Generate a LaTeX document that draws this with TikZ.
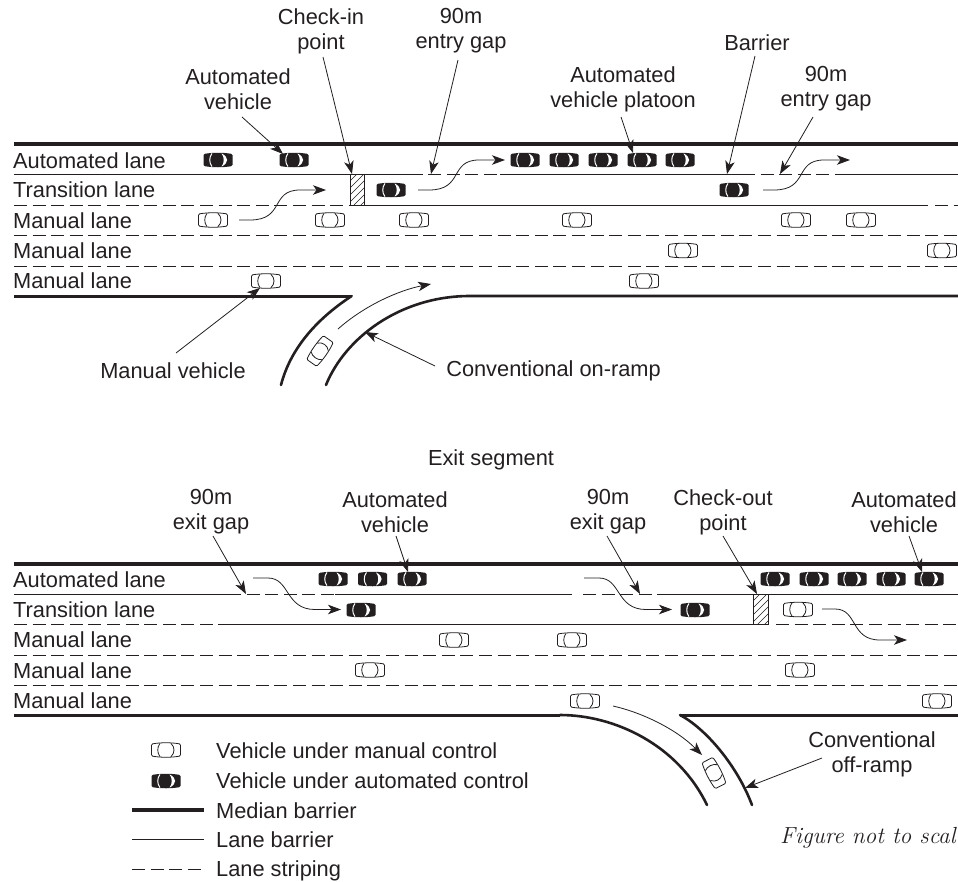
\documentclass[tikz,border=0pt]{standalone}
\usepackage{fontspec}
\setsansfont{Liberation Sans}
\usetikzlibrary{arrows.meta}
\definecolor{ink}{HTML}{231F20}
\tikzset{
  x=1pt,y=-1pt,
  lab/.style={font=\sffamily\fontsize{21.8}{25}\selectfont,text=ink,inner sep=0pt,align=center},
  lane/.style={lab,anchor=base west},
  median/.style={draw=ink,line width=4pt},
  road/.style={draw=ink,line width=3pt},
  rampline/.style={draw=ink,line width=2.6pt,line cap=round},
  barrier/.style={draw=ink,line width=1pt},
  stripe/.style={draw=ink,line width=1pt,dash pattern=on 13pt off 5.6pt},
  tipped/.style={draw=ink,line width=.8pt,-{Stealth[length=13pt,width=9.5pt,inset=3.5pt]}},
  callout/.style={tipped},
  mover/.style={tipped},
  wcar/.pic={
    \draw[draw=ink,line width=.8pt,fill=white,rounded corners=1.2pt] (-14.5,-6) .. controls (-5,-7.6) and (5,-7.6) .. (14.5,-6) -- (14.5,6) .. controls (5,7.6) and (-5,7.6) .. (-14.5,6) -- cycle;
    \draw[draw=ink,line width=.8pt] (-6,-6.6) .. controls (-9,-3) and (-9,3) .. (-6,6.6);
    \draw[draw=ink,line width=.8pt] (5,-6.6) .. controls (9,-3) and (9,3) .. (5,6.6);
  },
  bcar/.pic={
    \fill[ink,rounded corners=1.2pt] (-14.5,-6) .. controls (-5,-7.6) and (5,-7.6) .. (14.5,-6) -- (14.5,6) .. controls (5,7.6) and (-5,7.6) .. (-14.5,6) -- cycle;
    \draw[white,line width=1pt] (-6,-6.6) .. controls (-9,-3) and (-9,3) .. (-6,6.6);
    \fill[white] (3.5,-6.6) .. controls (6.5,-3) and (6.5,3) .. (3.5,6.6) .. controls (11,3) and (11,-3) .. (3.5,-6.6);
  },
}
\begin{document}
\begin{tikzpicture}
\useasboundingbox (0,0) rectangle (958,881);
% ---- upper segment: lane lines
\draw[median] (14,144) -- (958,144);
\draw[barrier] (14,174.5) -- (423,174.5);
\draw[stripe] (428,174.5) -- (500,174.5);
\draw[barrier] (500,174.5) -- (742,174.5);
\draw[stripe] (742,174.5) -- (835,174.5);
\draw[barrier] (835,174.5) -- (958,174.5);
\draw[stripe] (14,205) -- (350,205);
\draw[barrier] (364,205) -- (928,205);
\draw[stripe] (935,205) -- (958,205);
\draw[stripe] (14,235) -- (958,235);
\draw[stripe] (14,266) -- (958,266);
\draw[road] (14,296) -- (351,296);
\draw[rampline] (351.7,296) .. controls (315,320) and (290,350) .. (281,385);
\draw[rampline] (958,296) -- (470,296) .. controls (400,296) and (345,338) .. (326,385);
% check-in hatch
\begin{scope}
\clip (350,174.5) rectangle (364,205);
\foreach \k in {0,7,...,49} {\draw[ink,line width=.6pt] (346,{178+\k}) -- (368,{178+\k-22});}
\end{scope}
\draw[ink,line width=.9pt] (350,174.5) rectangle (364,205);
% upper vehicles
\foreach \cx/\cy in {218/160,294/160,525/160,564/160,603/160,642/160,680/160,391/190,734/190}
  \pic at (\cx,\cy) {bcar};
\foreach \cx/\cy in {213/220,330/220,414/220,577/220,796/220,861/220,683/250.5,942/250.5,266/281,644/281}
  \pic at (\cx,\cy) {wcar};
\pic[rotate=55] at (320,351) {wcar};
% upper lane labels
\node[lane] (ua) at (13,168) {Automated lane};
\node[lane] (ut) at (13,197.5) {Transition lane};
\node[lane] (um1) at (13,228) {Manual lane};
\node[lane] (um2) at (13,258) {Manual lane};
\node[lane] (um3) at (13,288.5) {Manual lane};
% upper labels
\node[lab] (avA) at (238,89) {Automated\\vehicle};
\node[lab] (chkin) at (321,31) {Check-in\\point};
\node[lab] (gapA) at (461,31) {90m\\entry gap};
\node[lab] (plat) at (623,89) {Automated\\vehicle platoon};
\node[lab] (barr) at (757,43) {Barrier};
\node[lab] (gapB) at (826,89) {90m\\entry gap};
\node[lab] (manv) at (173,371) {Manual vehicle};
\node[lab] (onr) at (553.5,371) {Conventional on-ramp};
% upper callout ends
\coordinate (avAs) at (242,117); \coordinate (avAt) at (283,154);
\coordinate (chks) at (323,57);  \coordinate (chkt) at (352,174);
\coordinate (gapAs) at (458,60); \coordinate (gapAt) at (431,174);
\coordinate (plats) at (621,117);\coordinate (platt) at (633,153);
\coordinate (barrs) at (755,56); \coordinate (barrt) at (727,174);
\coordinate (gapBs) at (813,117);\coordinate (gapBt) at (780,174);
\coordinate (manvs) at (176,353);\coordinate (manvt) at (260,288);
\coordinate (onrs) at (435,366); \coordinate (onrt) at (365,332);
\draw[callout] (avAs) -- (avAt);
\draw[callout] (chks) -- (chkt);
\draw[callout] (gapAs) -- (gapAt);
\draw[callout] (plats) -- (platt);
\draw[callout] (barrs) -- (barrt);
\draw[callout] (gapBs) -- (gapBt);
\draw[callout] (manvs) -- (manvt);
\draw[callout] (onrs) -- (onrt);
% upper movement arrows
\coordinate (m1s) at (239,220); \coordinate (m1t) at (326,190);
\coordinate (m2s) at (418,190); \coordinate (m2t) at (505,160);
\coordinate (m3s) at (763,190); \coordinate (m3t) at (850,160);
\coordinate (m4s) at (338,329); \coordinate (m4t) at (431,284);
\draw[mover] (m1s) -- (250,220) .. controls (285,220) and (270,190) .. (300,190) -- (m1t);
\draw[mover] (m2s) -- (429,190) .. controls (464,190) and (449,160) .. (479,160) -- (m2t);
\draw[mover] (m3s) -- (774,190) .. controls (809,190) and (794,160) .. (824,160) -- (m3t);
\draw[mover] (m4s) .. controls (365,305) and (400,290) .. (m4t);
% ---- exit segment
\node[lab] (exitseg) at (491,460) {Exit segment};
\draw[median] (14,563.5) -- (958,563.5);
\draw[barrier] (14,594) -- (228,594);
\draw[stripe] (228,594) -- (335,594);
\draw[barrier] (335,594) -- (572,594);
\draw[stripe] (583,594) -- (657,594);
\draw[barrier] (657,594) -- (958,594);
\draw[stripe] (14,624.5) -- (218,624.5);
\draw[barrier] (218,624.5) -- (753,624.5);
\draw[stripe] (776,624.5) -- (958,624.5);
\draw[stripe] (14,655) -- (958,655);
\draw[stripe] (14,685) -- (958,685);
\draw[road] (14,715) -- (560,715);
\draw[rampline] (560,715) .. controls (615,715) and (678,745) .. (707,805);
\draw[road] (680,715) -- (958,715);
\draw[rampline] (680,715) .. controls (705,728) and (737,765) .. (752,805);
% check-out hatch
\begin{scope}
\clip (753.5,594) rectangle (768.5,624.5);
\foreach \k in {0,7,...,49} {\draw[ink,line width=.6pt] (750,{597+\k}) -- (772,{597+\k-22});}
\end{scope}
\draw[ink,line width=.9pt] (753.5,594) rectangle (768.5,624.5);
% exit vehicles
\foreach \cx/\cy in {333/579,372.5/579,412/579,775/579,814/579,852/579,891/579,929/579,361/610,695/610}
  \pic at (\cx,\cy) {bcar};
\foreach \cx/\cy in {798/609.5,454/640,572/640,370/670,800/670,585/701,937/701}
  \pic at (\cx,\cy) {wcar};
\pic[rotate=-63] at (714,773) {wcar};
% exit lane labels
\node[lane] (la) at (13,587) {Automated lane};
\node[lane] (lt) at (13,617) {Transition lane};
\node[lane] (lm1) at (13,647.5) {Manual lane};
\node[lane] (lm2) at (13,678) {Manual lane};
\node[lane] (lm3) at (13,708) {Manual lane};
% exit labels
\node[lab] (gapC) at (211,512) {90m\\exit gap};
\node[lab] (avB) at (395,512) {Automated\\vehicle};
\node[lab] (gapD) at (608,512) {90m\\exit gap};
\node[lab] (chkout) at (723,512) {Check-out\\point};
\node[lab] (avC) at (904,512) {Automated\\vehicle};
\node[lab] (offr) at (872,754) {Conventional\\off-ramp};
\coordinate (gapCs) at (213,536);\coordinate (gapCt) at (246,594);
\coordinate (avBs) at (396,536); \coordinate (avBt) at (408,572);
\coordinate (gapDs) at (607,536);\coordinate (gapDt) at (640,594);
\coordinate (chks2) at (723,536);\coordinate (chkt2) at (757,594);
\coordinate (avCs) at (909,536); \coordinate (avCt) at (922,572);
\coordinate (offs) at (822,758); \coordinate (offt) at (745,788);
\draw[callout] (gapCs) -- (gapCt);
\draw[callout] (avBs) -- (avBt);
\draw[callout] (gapDs) -- (gapDt);
\draw[callout] (chks2) -- (chkt2);
\draw[callout] (avCs) -- (avCt);
\draw[callout] (offs) -- (offt);
\coordinate (x1s) at (253,578); \coordinate (x1t) at (341,609.5);
\coordinate (x2s) at (584,578); \coordinate (x2t) at (672,609.5);
\coordinate (x3s) at (822,609); \coordinate (x3t) at (907,640);
\coordinate (x4s) at (613,706); \coordinate (x4t) at (702,755);
\draw[mover] (x1s) -- (268,578) .. controls (290,578) and (285,609.5) .. (315,609.5) -- (x1t);
\draw[mover] (x2s) -- (599,578) .. controls (621,578) and (616,609.5) .. (646,609.5) -- (x2t);
\draw[mover] (x3s) -- (835,609) .. controls (858,609) and (850,640) .. (880,640) -- (x3t);
\draw[mover] (x4s) .. controls (640,712) and (675,728) .. (x4t);
% legend
\pic at (166,750) {wcar};
\pic at (166,781) {bcar};
\coordinate (k1a) at (132,810); \coordinate (k1b) at (204,810);
\coordinate (k2a) at (132,839); \coordinate (k2b) at (204,839);
\coordinate (k3a) at (132,869); \coordinate (k3b) at (204,869);
\draw[median] (k1a) -- (k1b);
\draw[barrier] (k2a) -- (k2b);
\draw[stripe] (k3a) -- (k3b);
\node[lane] (lg1) at (216,758) {Vehicle under manual control};
\node[lane] (lg2) at (216,788) {Vehicle under automated control};
\node[lane] (lg3) at (216,818) {Median barrier};
\node[lane] (lg4) at (216,847) {Lane barrier};
\node[lane] (lg5) at (216,876) {Lane striping};
\node[anchor=base west,inner sep=0pt,text=ink,font=\itshape\fontsize{23.3}{26}\selectfont] (fig) at (780,843) {Figure not to scal};
\end{tikzpicture}
\end{document}
